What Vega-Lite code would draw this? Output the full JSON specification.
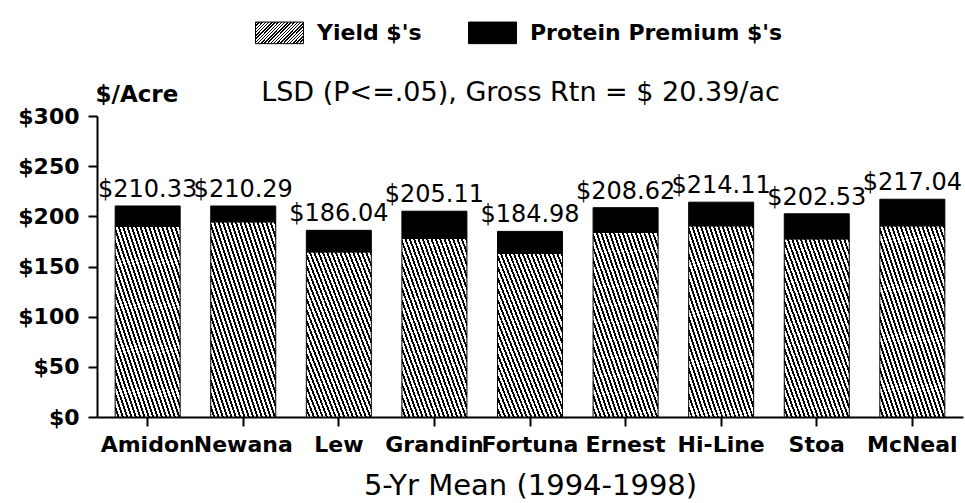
{
  "$schema": "https://vega.github.io/schema/vega-lite/v6.json",
  "autosize": {"type": "none"},
  "width": 866,
  "height": 301,
  "padding": {"left": 97, "top": 116, "right": 2, "bottom": 86},
  "background": "white",
  "config": {
    "view": {"stroke": null},
    "font": "DejaVu Sans",
    "axis": {"grid": false, "domainColor": "black", "tickColor": "black", "labelColor": "black", "titleColor": "black", "labelFont": "DejaVu Sans", "titleFont": "DejaVu Sans"}
  },
  "resolve": {"axis": {"x": "independent"}},
  "data": {
    "values": [
      {"variety": "Amidon", "type": "Yield $'s", "value": 190.0, "total": 210.33},
      {"variety": "Amidon", "type": "Protein Premium $'s", "value": 20.33, "total": 210.33},
      {"variety": "Newana", "type": "Yield $'s", "value": 194.5, "total": 210.29},
      {"variety": "Newana", "type": "Protein Premium $'s", "value": 15.79, "total": 210.29},
      {"variety": "Lew", "type": "Yield $'s", "value": 164.5, "total": 186.04},
      {"variety": "Lew", "type": "Protein Premium $'s", "value": 21.54, "total": 186.04},
      {"variety": "Grandin", "type": "Yield $'s", "value": 178.0, "total": 205.11},
      {"variety": "Grandin", "type": "Protein Premium $'s", "value": 27.11, "total": 205.11},
      {"variety": "Fortuna", "type": "Yield $'s", "value": 163.0, "total": 184.98},
      {"variety": "Fortuna", "type": "Protein Premium $'s", "value": 21.98, "total": 184.98},
      {"variety": "Ernest", "type": "Yield $'s", "value": 184.0, "total": 208.62},
      {"variety": "Ernest", "type": "Protein Premium $'s", "value": 24.62, "total": 208.62},
      {"variety": "Hi-Line", "type": "Yield $'s", "value": 190.5, "total": 214.11},
      {"variety": "Hi-Line", "type": "Protein Premium $'s", "value": 23.61, "total": 214.11},
      {"variety": "Stoa", "type": "Yield $'s", "value": 177.5, "total": 202.53},
      {"variety": "Stoa", "type": "Protein Premium $'s", "value": 25.03, "total": 202.53},
      {"variety": "McNeal", "type": "Yield $'s", "value": 190.5, "total": 217.04},
      {"variety": "McNeal", "type": "Protein Premium $'s", "value": 26.54, "total": 217.04}
    ]
  },
  "layer": [
    {
      "mark": {"type": "bar", "stroke": "black", "strokeWidth": 1},
      "encoding": {
        "x": {
          "field": "variety",
          "type": "nominal",
          "sort": null,
          "scale": {"paddingInner": 0.32, "paddingOuter": 0.19},
          "axis": {
            "orient": "bottom",
            "title": "5-Yr Mean (1994-1998)",
            "titleFontSize": 29,
            "titleFontWeight": "normal",
            "titlePadding": 16,
            "labelAngle": 0,
            "labelFontSize": 22,
            "labelFontWeight": "bold",
            "labelPadding": 8,
            "tickSize": 9,
            "tickWidth": 2,
            "domainWidth": 2
          }
        },
        "y": {
          "field": "value",
          "type": "quantitative",
          "stack": "zero",
          "scale": {"domain": [0, 300], "nice": false},
          "axis": {
            "values": [0, 50, 100, 150, 200, 250, 300],
            "format": "$.0f",
            "title": "$/Acre",
            "titleAngle": 0,
            "titleAlign": "left",
            "titleBaseline": "middle",
            "titleX": -2,
            "titleY": -22,
            "titleFontSize": 23,
            "titleFontWeight": "bold",
            "labelFontSize": 22,
            "labelFontWeight": "bold",
            "labelPadding": 9,
            "tickSize": 9,
            "tickWidth": 2,
            "domainWidth": 2
          }
        },
        "order": {"field": "type", "sort": "descending"},
        "fill": {
          "field": "type",
          "type": "nominal",
          "scale": {
            "domain": ["Yield $'s", "Protein Premium $'s"],
            "range": [
              {"expr": "{gradient:'linear',x1:0,y1:1,x2:1,y2:0,stops:[{offset:0,color:'#fff'},{offset:0.0183,color:'#fff'},{offset:0.0183,color:'#000'},{offset:0.0333,color:'#000'},{offset:0.0333,color:'#fff'},{offset:0.0517,color:'#fff'},{offset:0.0517,color:'#000'},{offset:0.0667,color:'#000'},{offset:0.0667,color:'#fff'},{offset:0.085,color:'#fff'},{offset:0.085,color:'#000'},{offset:0.1,color:'#000'},{offset:0.1,color:'#fff'},{offset:0.1183,color:'#fff'},{offset:0.1183,color:'#000'},{offset:0.1333,color:'#000'},{offset:0.1333,color:'#fff'},{offset:0.1517,color:'#fff'},{offset:0.1517,color:'#000'},{offset:0.1667,color:'#000'},{offset:0.1667,color:'#fff'},{offset:0.185,color:'#fff'},{offset:0.185,color:'#000'},{offset:0.2,color:'#000'},{offset:0.2,color:'#fff'},{offset:0.2183,color:'#fff'},{offset:0.2183,color:'#000'},{offset:0.2333,color:'#000'},{offset:0.2333,color:'#fff'},{offset:0.2517,color:'#fff'},{offset:0.2517,color:'#000'},{offset:0.2667,color:'#000'},{offset:0.2667,color:'#fff'},{offset:0.285,color:'#fff'},{offset:0.285,color:'#000'},{offset:0.3,color:'#000'},{offset:0.3,color:'#fff'},{offset:0.3183,color:'#fff'},{offset:0.3183,color:'#000'},{offset:0.3333,color:'#000'},{offset:0.3333,color:'#fff'},{offset:0.3517,color:'#fff'},{offset:0.3517,color:'#000'},{offset:0.3667,color:'#000'},{offset:0.3667,color:'#fff'},{offset:0.385,color:'#fff'},{offset:0.385,color:'#000'},{offset:0.4,color:'#000'},{offset:0.4,color:'#fff'},{offset:0.4183,color:'#fff'},{offset:0.4183,color:'#000'},{offset:0.4333,color:'#000'},{offset:0.4333,color:'#fff'},{offset:0.4517,color:'#fff'},{offset:0.4517,color:'#000'},{offset:0.4667,color:'#000'},{offset:0.4667,color:'#fff'},{offset:0.485,color:'#fff'},{offset:0.485,color:'#000'},{offset:0.5,color:'#000'},{offset:0.5,color:'#fff'},{offset:0.5183,color:'#fff'},{offset:0.5183,color:'#000'},{offset:0.5333,color:'#000'},{offset:0.5333,color:'#fff'},{offset:0.5517,color:'#fff'},{offset:0.5517,color:'#000'},{offset:0.5667,color:'#000'},{offset:0.5667,color:'#fff'},{offset:0.585,color:'#fff'},{offset:0.585,color:'#000'},{offset:0.6,color:'#000'},{offset:0.6,color:'#fff'},{offset:0.6183,color:'#fff'},{offset:0.6183,color:'#000'},{offset:0.6333,color:'#000'},{offset:0.6333,color:'#fff'},{offset:0.6517,color:'#fff'},{offset:0.6517,color:'#000'},{offset:0.6667,color:'#000'},{offset:0.6667,color:'#fff'},{offset:0.685,color:'#fff'},{offset:0.685,color:'#000'},{offset:0.7,color:'#000'},{offset:0.7,color:'#fff'},{offset:0.7183,color:'#fff'},{offset:0.7183,color:'#000'},{offset:0.7333,color:'#000'},{offset:0.7333,color:'#fff'},{offset:0.7517,color:'#fff'},{offset:0.7517,color:'#000'},{offset:0.7667,color:'#000'},{offset:0.7667,color:'#fff'},{offset:0.785,color:'#fff'},{offset:0.785,color:'#000'},{offset:0.8,color:'#000'},{offset:0.8,color:'#fff'},{offset:0.8183,color:'#fff'},{offset:0.8183,color:'#000'},{offset:0.8333,color:'#000'},{offset:0.8333,color:'#fff'},{offset:0.8517,color:'#fff'},{offset:0.8517,color:'#000'},{offset:0.8667,color:'#000'},{offset:0.8667,color:'#fff'},{offset:0.885,color:'#fff'},{offset:0.885,color:'#000'},{offset:0.9,color:'#000'},{offset:0.9,color:'#fff'},{offset:0.9183,color:'#fff'},{offset:0.9183,color:'#000'},{offset:0.9333,color:'#000'},{offset:0.9333,color:'#fff'},{offset:0.9517,color:'#fff'},{offset:0.9517,color:'#000'},{offset:0.9667,color:'#000'},{offset:0.9667,color:'#fff'},{offset:0.985,color:'#fff'},{offset:0.985,color:'#000'},{offset:1,color:'#000'}]}"},
              "black"
            ]
          },
          "legend": {
            "title": null,
            "orient": "none",
            "direction": "horizontal",
            "legendX": 158,
            "legendY": -108,
            "padding": 0,
            "symbolType": "M-1,-0.45H1V0.45H-1Z",
            "symbolSize": 2304,
            "symbolStrokeColor": "black",
            "symbolStrokeWidth": 1,
            "symbolOpacity": 1,
            "labelFontSize": 22,
            "labelFontWeight": "bold",
            "labelFont": "DejaVu Sans",
            "labelColor": "black",
            "labelOffset": 13,
            "columnPadding": 44,
            "labelLimit": 400,
            "encode": {
              "symbols": {
                "update": {
                  "stroke": {"value": "black"},
                  "strokeWidth": {"value": 1},
                  "opacity": {"value": 1}
                }
              }
            }
          }
        }
      }
    },
    {
      "transform": [{"filter": "datum.type === \"Protein Premium $'s\""}],
      "mark": {"type": "text", "baseline": "alphabetic", "dy": -9, "fontSize": 24, "font": "DejaVu Sans", "color": "black"},
      "encoding": {
        "x": {
          "field": "variety",
          "type": "nominal",
          "sort": null,
          "axis": {
            "orient": "top",
            "title": "LSD (P<=.05), Gross Rtn = $ 20.39/ac",
            "titleFontSize": 27,
            "titleFontWeight": "normal",
            "titleBaseline": "middle",
            "titlePadding": 24,
            "titleX": 423,
            "titleAlign": "center",
            "domain": false,
            "ticks": false,
            "labels": false
          }
        },
        "y": {"field": "total", "type": "quantitative", "stack": null},
        "text": {"field": "total", "type": "quantitative", "format": "$.2f"}
      }
    }
  ]
}
